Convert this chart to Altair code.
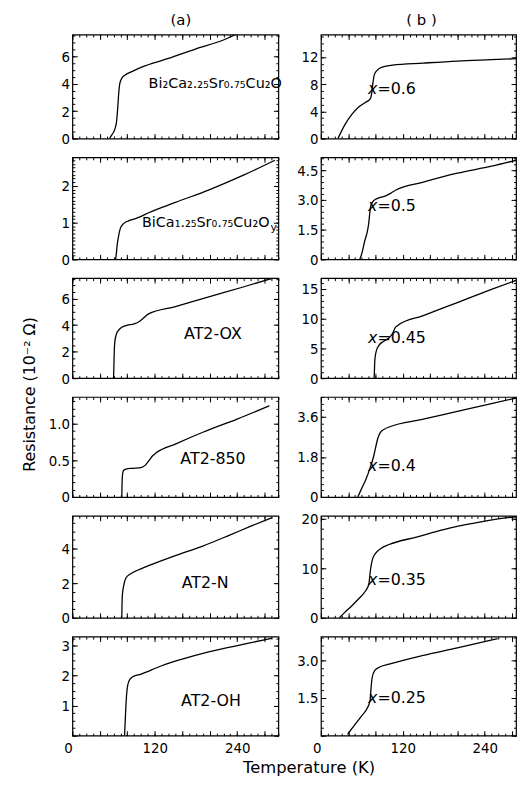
import altair as alt
import pandas as pd
import numpy as np

FONT = "DejaVu Sans"
TICKFONT = "DejaVu Sans Condensed, Liberation Sans Narrow, DejaVu Sans"

# ---------------- data ----------------
# column (a)
a1_T = [54, 58, 62, 64.5, 66, 67.5, 69, 72, 77, 85, 100, 140, 180, 220, 238]
a1_R = [0, 0.3, 0.7, 1.3, 2.2, 3.3, 4.0, 4.4, 4.65, 4.85, 5.2, 5.85, 6.55, 7.2, 7.6]
a2_T = [63, 64, 65, 67, 70, 75, 82, 91, 100, 111, 150, 200, 250, 295]
a2_R = [0, 0.15, 0.35, 0.6, 0.85, 0.98, 1.05, 1.1, 1.17, 1.27, 1.55, 1.9, 2.3, 2.7]
a3_T = [60, 60.5, 61, 62, 64, 67, 72, 80, 90, 98, 105, 111, 150, 200, 250, 292]
a3_R = [0, 1.0, 2.0, 2.8, 3.3, 3.6, 3.85, 4.0, 4.1, 4.3, 4.6, 4.85, 5.4, 6.15, 6.9, 7.55]
a4_T = [72, 72.3, 73, 74.5, 78, 88, 100, 106, 112, 117, 122, 150, 190, 240, 287]
a4_R = [0, 0.15, 0.3, 0.36, 0.38, 0.39, 0.4, 0.43, 0.5, 0.56, 0.6, 0.72, 0.88, 1.06, 1.24]
a5_T = [72, 72.3, 73, 75, 78, 85, 95, 110, 150, 190, 230, 260, 291]
a5_R = [0, 0.8, 1.4, 1.9, 2.3, 2.55, 2.75, 3.0, 3.6, 4.15, 4.8, 5.3, 5.8]
a6_T = [76, 77, 78, 79.5, 82, 87, 100, 130, 160, 200, 250, 291]
a6_R = [0, 0.5, 1.0, 1.5, 1.8, 1.95, 2.05, 2.33, 2.55, 2.8, 3.05, 3.25]
# column (b)
b1_T = [25, 35, 45, 55, 65, 72, 74, 76, 78, 82, 90, 105, 150, 200, 250, 300]
b1_R = [0, 2.0, 3.5, 4.6, 5.3, 5.8, 6.4, 8.0, 9.3, 10.0, 10.5, 10.8, 11.1, 11.4, 11.6, 11.8]
b2_T = [57, 60, 64, 68, 70, 71.5, 73, 77, 85, 95, 103, 110, 150, 200, 250, 297]
b2_R = [0, 0.3, 0.9, 1.4, 1.8, 2.3, 2.7, 2.95, 3.1, 3.2, 3.35, 3.5, 3.9, 4.35, 4.7, 5.1]
b3_T = [78, 78.5, 79, 81, 85, 92, 100, 105, 109, 112, 150, 200, 250, 295]
b3_R = [0, 1.5, 3.0, 4.5, 5.5, 6.2, 6.8, 7.5, 8.5, 8.8, 10.5, 12.7, 14.9, 16.8]
b4_T = [54, 60, 66, 72, 77, 80, 83, 87, 93, 100, 150, 200, 250, 293]
b4_R = [0, 0.4, 0.8, 1.3, 1.8, 2.2, 2.6, 2.9, 3.05, 3.15, 3.5, 3.85, 4.2, 4.5]
b5_T = [27, 35, 45, 55, 63, 68, 70.5, 72, 73.5, 76, 80, 88, 100, 140, 180, 220, 260, 295]
b5_R = [0, 1.1, 2.4, 3.8, 5.0, 6.0, 7.0, 9.0, 10.5, 12.0, 13.0, 14.0, 14.8, 16.3, 17.8, 19.0, 20.0, 20.5]
b6_T = [39, 50, 60, 68, 72, 73.5, 75, 79, 87, 100, 150, 200, 259]
b6_R = [0.05, 0.45, 0.8, 1.1, 1.4, 1.9, 2.3, 2.6, 2.75, 2.85, 3.2, 3.5, 3.87]

a_labels = ["Bi₂Ca₂.₂₅Sr₀.₇₅Cu₂O", "BiCa₁.₂₅Sr₀.₇₅Cu₂O", "AT2-OX", "AT2-850", "AT2-N", "AT2-OH"]
b_labels = ["=0.6", "=0.5", "=0.45", "=0.4", "=0.35", "=0.25"]

a_ymax = [7.6, 2.78, 7.55, 1.36, 5.9, 3.3]
b_ymax = [15.3, 5.15, 16.8, 4.5, 20.6, 3.95]
a_ymajor = [[0, 2, 4, 6], [0, 1, 2], [0, 2, 4, 6], [0, 0.5, 1.0], [0, 2, 4], [0, 1, 2, 3]]
b_ymajor = [[0, 4, 8, 12], [0, 1.5, 3.0, 4.5], [0, 5, 10, 15], [0, 1.8, 3.6], [0, 10, 20], [0, 1.5, 3.0]]
a_yminor = [0.5, 0.1, 0.5, 0.1, 0.5, 0.25]
b_yminor = [1, 0.3, 1, 0.3, 2, 0.3]
a_yfmt = ["d", "d", "d", ".1f", "d", "d"]
b_yfmt = ["d", ".1f", "d", ".1f", "d", ".1f"]

# x range shown: column (b) is cropped at the right edge of the figure
a_xmax = 300
b_xmax = 286
x_minor = list(range(0, 301, 10))
x_major = list(range(0, 301, 40))

# ---------------- layout ----------------
W_A, W_B = 208, 197
HEIGHTS = [105, 103, 101, 101, 103, 100]
VSPACE = 19
HSPACE = 12


def tick_axis(orient, values, size, **kw):
    return alt.Axis(orient=orient, values=values, tickSize={"expr": str(-size)},
                    title=None, domain=False, grid=False, tickColor="black",
                    tickWidth=1, minExtent=0, **kw)


def text_layer(txt, x, y, size=13, align="left", style="normal"):
    return alt.Chart(pd.DataFrame({"t": [txt]})).mark_text(
        align=align, baseline="middle", fontSize=size, font=FONT,
        fontStyle=style, color="black"
    ).encode(x=alt.value(x), y=alt.value(y), text="t:N")


def panel(T, R, xmax, ymax, ymajor, ystep, yfmt, width, height, bottom, texts):
    df = pd.DataFrame({"T": T, "R": R})
    xs = alt.Scale(domain=[0, xmax], nice=False, zero=False)
    ys = alt.Scale(domain=[0, ymax], nice=False, zero=False)
    xmin_v = [v for v in x_minor if v <= xmax]
    xmaj_v = [v for v in x_major if v <= xmax]
    yminor = [round(v, 4) for v in np.arange(0, ymax + 1e-9, ystep)]
    zero_txt = "''" if bottom else "'0'"
    ylab = f"datum.value === 0 ? {zero_txt} : format(datum.value, '{yfmt}')"
    base = alt.Chart(df)

    line = base.mark_line(color="black", strokeWidth=1.3, interpolate="monotone", clip=True).encode(
        x=alt.X("T:Q", scale=xs, axis=tick_axis("bottom", xmin_v, 2.5, labels=False)),
        y=alt.Y("R:Q", scale=ys, axis=tick_axis("left", yminor, 2.5, labels=False)),
    )
    xmaj_kw = dict(labels=False)
    if bottom:
        xmaj_kw = dict(
            labels=True,
            labelExpr="datum.value % 120 === 0 ? datum.label : ''",
            labelAlign={"condition": {"test": "datum.value === 0", "value": "right"}, "value": "center"},
            labelFontSize=15, labelFont=TICKFONT, labelColor="black", labelPadding=10,
        )
    major = base.mark_line(opacity=0, clip=True).encode(
        x=alt.X("T:Q", scale=xs, axis=tick_axis("bottom", xmaj_v, 5, **xmaj_kw)),
        y=alt.Y("R:Q", scale=ys, axis=tick_axis(
            "left", ymajor, 5, labels=True, labelExpr=ylab, labelFontSize=15,
            labelFont=TICKFONT, labelColor="black", labelPadding=8)),
    )
    top_minor = base.mark_line(opacity=0, clip=True).encode(
        x=alt.X("T:Q", scale=xs, axis=tick_axis("top", xmin_v, 2.5, labels=False)),
        y=alt.Y("R:Q", scale=ys, axis=tick_axis("right", yminor, 2.5, labels=False)),
    )
    top_major = base.mark_line(opacity=0, clip=True).encode(
        x=alt.X("T:Q", scale=xs, axis=tick_axis("top", xmaj_v, 5, labels=False)),
        y=alt.Y("R:Q", scale=ys, axis=tick_axis("right", ymajor, 5, labels=False)),
    )
    layers = [line, major, top_minor, top_major] + texts
    return alt.layer(*layers).resolve_axis(x="independent", y="independent").properties(
        width=width, height=height)


a_data = [(a1_T, a1_R), (a2_T, a2_R), (a3_T, a3_R), (a4_T, a4_R), (a5_T, a5_R), (a6_T, a6_R)]
b_data = [(b1_T, b1_R), (b2_T, b2_R), (b3_T, b3_R), (b4_T, b4_R), (b5_T, b5_R), (b6_T, b6_R)]

# annotation placement (pixels within each panel)
a_text_pos = [(77, 50, "left"), (199, 66, "right"), (142, 56, "center"),
              (142, 63, "center"), (134, 68, "center"), (140, 65, "center")]
b_text_pos = [(57, 55), (57, 49), (57, 60), (57, 70), (57, 65), (57, 62)]

col_a, col_b = [], []
for i in range(6):
    bottom = i == 5
    tx, ty, al = a_text_pos[i]
    texts = [text_layer(a_labels[i], tx, ty, size=14.5 if i < 2 else 16, align=al)]
    if i == 1:
        texts.append(text_layer("y", tx + 1, ty + 5, size=11, align="left"))
    col_a.append(panel(a_data[i][0], a_data[i][1], a_xmax, a_ymax[i], a_ymajor[i], a_yminor[i],
                       a_yfmt[i], W_A, HEIGHTS[i], bottom, texts))
    bx, by = b_text_pos[i]
    texts_b = [text_layer("x", bx, by, size=16, align="right", style="italic"),
               text_layer(b_labels[i], bx, by, size=16, align="left")]
    col_b.append(panel(b_data[i][0], b_data[i][1], b_xmax, b_ymax[i], b_ymajor[i], b_yminor[i],
                       b_yfmt[i], W_B, HEIGHTS[i], bottom, texts_b))

title_kw = dict(fontSize=15, font=FONT, fontWeight="normal", color="black", anchor="middle")
colA = alt.vconcat(*col_a, spacing=VSPACE, bounds="flush",
                   title=alt.TitleParams("(a)", offset=6, dx=16, **title_kw))
colB = alt.vconcat(*col_b, spacing=VSPACE, bounds="flush",
                   title=alt.TitleParams("( b )", offset=6, dx=15, **title_kw))

grid = alt.hconcat(colA, colB, spacing=HSPACE,
                   title=alt.TitleParams("Temperature (K)", orient="bottom", offset=4, dx=27,
                                         **dict(title_kw, fontSize=16.5)))
chart = alt.vconcat(grid, title=alt.TitleParams("Resistance (10⁻² Ω)", orient="left", offset=10,
                                                 **dict(title_kw, fontSize=16))
                    ).properties(padding={"left": 13, "top": 0, "right": 0, "bottom": 0},
                                 background="white"
                    ).configure_view(stroke="black", strokeWidth=1.2)

chart.save("out.html", embed_options={"renderer": "svg", "actions": False})
